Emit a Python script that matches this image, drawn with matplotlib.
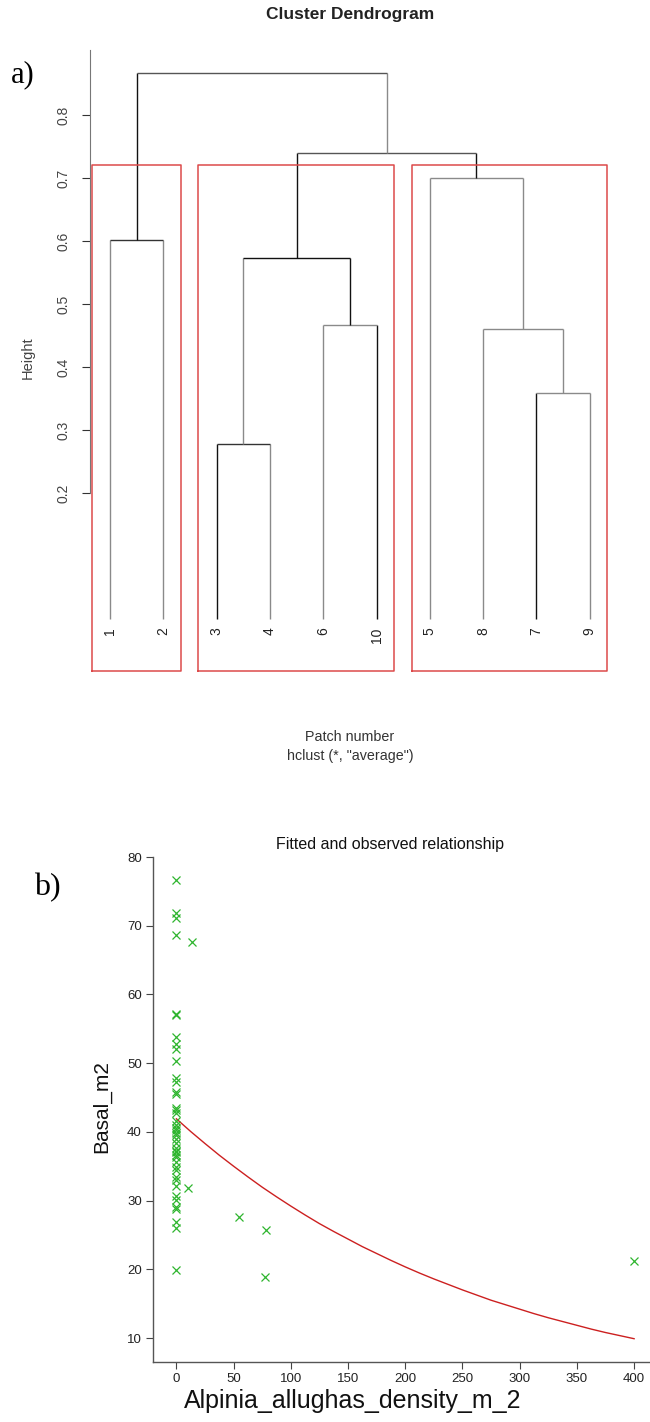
import matplotlib
matplotlib.use("Agg")
import matplotlib.pyplot as plt

plt.rcParams['font.family'] = ['Liberation Sans', 'DejaVu Sans']

# ---------------- data: dendrogram ----------------
leaf_order = ['1', '2', '3', '4', '6', '10', '5', '8', '7', '9']
merge_pairs = [('3', '4'), ('7', '9'), ('8', 'm2'), ('6', '10'), ('m1', 'm4'),
               ('1', '2'), ('5', 'm3'), ('m5', 'm7'), ('m6', 'm8')]
merge_heights = [0.278, 0.359, 0.460, 0.467, 0.573, 0.601, 0.700, 0.740, 0.867]
cluster_sizes = [2, 4, 4]
dendro_yticks = [0.2, 0.3, 0.4, 0.5, 0.6, 0.7, 0.8]

# ---------------- data: scatter ----------------
obs_x = [0, 0, 0, 0, 0, 0, 0, 0, 0, 0, 0, 0, 0, 0, 0, 0, 0, 0, 0, 0, 0, 0,
         0, 0, 0, 0, 0, 0, 0, 0, 0, 0, 0, 0, 0, 0, 0, 0, 0, 0, 0, 0, 0,
         13.6, 10.4, 55, 78, 77, 400]
obs_y = [76.6, 71.8, 71.1, 68.7, 57.0, 57.1, 53.8, 52.8, 52.0, 50.3, 47.9, 47.3,
         45.8, 45.5, 43.5, 43.2, 42.8, 41.6, 41.0, 40.5, 40.2, 39.9, 39.6, 39.0,
         38.4, 37.6, 37.2, 37.0, 36.7, 36.3, 35.6, 34.9, 34.5, 33.4, 33.0, 32.1,
         30.7, 30.1, 29.1, 28.8, 26.9, 26.0, 19.9,
         67.7, 31.8, 27.6, 25.7, 18.9, 21.2]
fit_x = [0, 12.5, 25, 37.5, 50, 62.5, 75, 87.5, 100, 112.5, 125, 137.5, 150,
         162.5, 175, 187.5, 200, 212.5, 225, 237.5, 250, 262.5, 275, 287.5, 300,
         312.5, 325, 337.5, 350, 362.5, 375, 387.5, 400]
fit_y = [41.9, 40.05, 38.3, 36.6, 35.0, 33.45, 31.95, 30.55, 29.2, 27.9, 26.65,
         25.5, 24.4, 23.3, 22.3, 21.3, 20.35, 19.45, 18.6, 17.8, 17.0, 16.25,
         15.5, 14.85, 14.2, 13.55, 12.95, 12.4, 11.85, 11.3, 10.8, 10.35, 9.9]
x_ticks = [0, 50, 100, 150, 200, 250, 300, 350, 400]
y_ticks = [10, 20, 30, 40, 50, 60, 70, 80]

W, H = 650, 1422
fig = plt.figure(figsize=(W / 100, H / 100), dpi=100)


def rect(x0, y0, x1, y1):
    return [x0 / W, 1 - y1 / H, (x1 - x0) / W, (y1 - y0) / H]


def ftext(x, y, s, **kw):
    fig.text(x / W, 1 - y / H, s, **kw)


# ================= panel a =================
ax1 = fig.add_axes(rect(90, 50, 610, 671))
ax1.set_xlim(0.625, 10.38)
ax1.set_ylim(-0.0825, 0.9032)

pos = {lab: i + 1 for i, lab in enumerate(leaf_order)}
hgt = {lab: 0.0 for lab in leaf_order}
dark = '#111111'
grey = '#8a8a8a'
seg_color = {'1': grey, '2': grey, '3': dark, '4': grey, '6': grey, '10': dark,
             '5': grey, '8': grey, '7': dark, '9': grey,
             'm1': grey, 'm2': grey, 'm3': grey, 'm4': dark, 'm5': dark,
             'm6': dark, 'm7': dark, 'm8': grey}
hor_color = ['#333333', grey, grey, grey, dark, '#333333', grey, '#555555', '#555555']
for k, ((a, b), h) in enumerate(zip(merge_pairs, merge_heights)):
    xa, xb = pos[a], pos[b]
    ax1.plot([xa, xa], [hgt[a], h], color=seg_color[a], lw=1.0, solid_capstyle='butt')
    ax1.plot([xb, xb], [hgt[b], h], color=seg_color[b], lw=1.0, solid_capstyle='butt')
    ax1.plot([xa, xb], [h, h], color=hor_color[k], lw=1.0, solid_capstyle='butt')
    name = 'm%d' % (k + 1)
    pos[name] = (xa + xb) / 2
    hgt[name] = h

for lab in leaf_order:
    ax1.text(pos[lab], -0.013, lab, rotation=90, ha='center', va='top',
             fontsize=10, color='#222222')

# red cluster boxes
box_top = (merge_heights[-2] + merge_heights[-3]) / 2
start = 0
ybot = ax1.get_ylim()[0]
for n in cluster_sizes:
    x0 = start + 0.66
    x1 = start + n + 0.33
    ax1.plot([x0, x0, x1, x1, x0], [ybot, box_top, box_top, ybot, ybot],
             color='#dd4a4a', lw=1.1, clip_on=False)
    start += n

for s in ['top', 'right', 'bottom']:
    ax1.spines[s].set_visible(False)
ax1.spines['left'].set_bounds(0.2, 0.9032)
ax1.spines['left'].set_color('#777777')
ax1.set_xticks([])
ax1.set_yticks(dendro_yticks)
ax1.set_yticklabels(['%.1f' % v for v in dendro_yticks], rotation=90, va='center',
                    fontsize=10, color='#444444')
ax1.tick_params(axis='y', length=6, color='#333333', pad=8)
ax1.patch.set_alpha(0)

ftext(350, 15, 'Cluster Dendrogram', ha='center', va='center', fontsize=12.5,
      fontweight='bold', color='#222222')
ftext(28, 358, 'Height', rotation=90, ha='center', va='center', fontsize=10.5,
      color='#444444')
ftext(350, 737, 'Patch number', ha='center', va='center', fontsize=10.3,
      color='#333333')
ftext(350, 756, 'hclust (*, "average")', ha='center', va='center', fontsize=10.3,
      color='#333333')
ftext(11, 75, 'a)', ha='left', va='center', fontsize=22,
      family=['Liberation Serif', 'DejaVu Serif'], color='black')

# ================= panel b =================
ax2 = fig.add_axes(rect(153, 857, 650, 1362))
ax2.set_xlim(-20.45, 413.9)
ax2.set_ylim(6.51, 80.0)
ax2.plot(fit_x, fit_y, color='#cc2020', lw=1.0)
ax2.plot(obs_x, obs_y, linestyle='none', marker='x', markersize=5.5,
         markeredgewidth=0.9, color='#2fb52f')
for s in ['top', 'right']:
    ax2.spines[s].set_visible(False)
for s in ['left', 'bottom']:
    ax2.spines[s].set_color('#555555')
    ax2.spines[s].set_linewidth(1.0)
ax2.set_xticks(x_ticks)
ax2.set_yticks(y_ticks)
ax2.tick_params(length=5, color='#444444', labelsize=9.5, labelcolor='#222222', pad=3)
ax2.patch.set_alpha(0)

ftext(390, 845, 'Fitted and observed relationship', ha='center', va='center',
      fontsize=11.5, color='#111111')
ftext(102, 1107, 'Basal_m2', rotation=90, ha='center', va='center', fontsize=15,
      color='#111111')
ftext(353, 1401, 'Alpinia_allughas_density_m_2', ha='center', va='center',
      fontsize=18, color='#111111')
ftext(34, 888, 'b)', ha='left', va='center', fontsize=23,
      family=['Liberation Serif', 'DejaVu Serif'], color='black')

fig.savefig('out.png', dpi=100)
